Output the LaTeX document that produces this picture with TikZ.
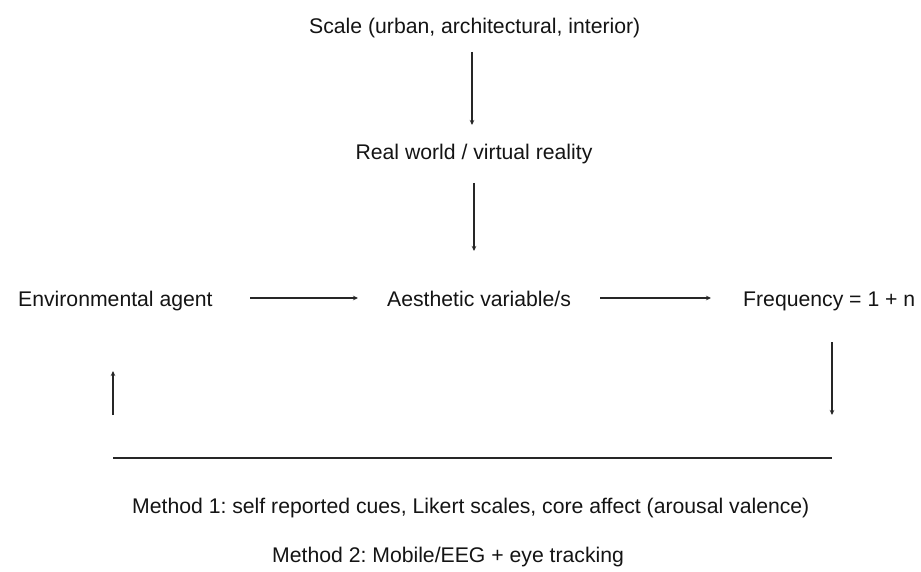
\documentclass[tikz,border=0pt]{standalone}
\usepackage{fontspec}
\setmainfont{Liberation Sans}
\usetikzlibrary{arrows.meta}
\begin{document}
\frenchspacing
\begin{tikzpicture}[x=1pt,y=-1pt,
  lbl/.style={inner sep=0pt,anchor=base west,text=black!92,font=\fontsize{21.2}{24}\selectfont},
  link/.style={line width=1.3pt,draw=black!85,-{Stealth[length=5pt,width=4.5pt]}},
  rule/.style={line width=1.3pt,draw=black!85}]
\useasboundingbox (0,0) rectangle (921,572);
\fill[white] (0,0) rectangle (921,572);
% labels, placed by their baselines
\node[lbl] (scale) at (309,34) {Scale (urban, architectural, interior)};
\node[lbl,anchor=base] (real) at (474,160) {Real world / virtual reality};
\node[lbl] (env) at (18,306) {Environmental agent};
\node[lbl] (aes) at (387,306) {Aesthetic variable/s};
\node[lbl] (freq) at (743,306) {Frequency = 1 + n};
\node[lbl] (m1) at (132,513) {Method 1: self reported cues, Likert scales, core affect (arousal valence)};
\node[lbl] (m2) at (272,562) {Method 2: Mobile/EEG + eye tracking};
% connector end points
\coordinate (a1s) at (472,52);  \coordinate (a1e) at (472,125);
\coordinate (a2s) at (474,183); \coordinate (a2e) at (474,251);
\coordinate (h1s) at (250,298); \coordinate (h1e) at (358,298);
\coordinate (h2s) at (600,298); \coordinate (h2e) at (711,298);
\coordinate (upS) at (113,415); \coordinate (upE) at (113,371);
\coordinate (dnS) at (832,342); \coordinate (dnE) at (832,415);
\coordinate (ruleL) at (113,458); \coordinate (ruleR) at (832,458);
\draw[link] (a1s) -- (a1e);
\draw[link] (a2s) -- (a2e);
\draw[link] (h1s) -- (h1e);
\draw[link] (h2s) -- (h2e);
\draw[link] (upS) -- (upE);
\draw[link] (dnS) -- (dnE);
\draw[rule] (ruleL) -- (ruleR);
\end{tikzpicture}
\end{document}
